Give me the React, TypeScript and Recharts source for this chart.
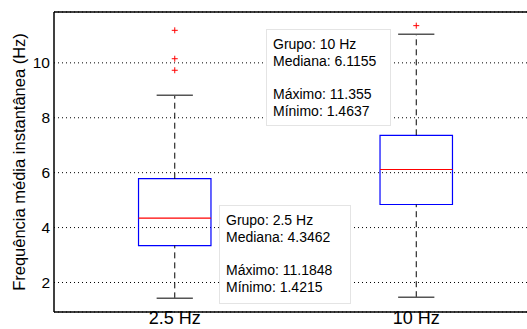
import React from 'react';
import {
  ComposedChart,
  XAxis,
  YAxis,
  CartesianGrid,
  ReferenceArea,
  ReferenceLine,
  Scatter,
} from 'recharts';

const groups = ['2.5 Hz', '10 Hz'];
const groupX = [1, 2];
const q1 = [3.345, 4.84];
const q3 = [5.78, 7.36];
const medians = [4.3462, 6.1155];
const whiskerLow = [1.4215, 1.4637];
const whiskerHigh = [8.82, 11.04];
const maxima = ['11.1848', '11.355'];
const minima = ['1.4215', '1.4637'];
const medianLabels = ['4.3462', '6.1155'];

const outliers = [
  { x: 1, y: 11.1848 },
  { x: 1, y: 10.15 },
  { x: 1, y: 9.73 },
  { x: 2, y: 11.355 },
];

const yTicks = [2, 4, 6, 8, 10];
const Y_MIN = 0.925;
const Y_MAX = 11.852;

const FONT = '"Liberation Sans", Arial, Helvetica, sans-serif';
const BOX_HALF = 0.15;
const CAP_HALF = 0.075;

// where the data tips sit on the page
const tipBoxes = [
  { left: 219, top: 205, width: 132, height: 99 },
  { left: 266, top: 29, width: 125, height: 97 },
];

const Plus = (props: any) => {
  const { cx, cy } = props;
  return (
    <g stroke="#ff0000" strokeWidth={1}>
      <line x1={cx - 3} x2={cx + 3} y1={cy} y2={cy} />
      <line x1={cx} x2={cx} y1={cy - 3} y2={cy + 3} />
    </g>
  );
};

const DataTip = ({ i }: { i: number }) => (
  <div
    style={{
      position: 'absolute',
      ...tipBoxes[i],
      boxSizing: 'border-box',
      background: '#fff',
      border: '1px solid #e4e4e4',
      fontFamily: FONT,
      fontSize: 14,
      lineHeight: '16.7px',
      padding: '6px 0 0 6px',
      color: '#000',
      whiteSpace: 'pre',
    }}
  >
    {`Grupo: ${groups[i]}\nMediana: ${medianLabels[i]}\n\nMáximo: ${maxima[i]}\nMínimo: ${minima[i]}`}
  </div>
);

export default function App() {
  return (
    <div
      style={{
        position: 'absolute',
        left: 0,
        top: 0,
        width: 527,
        height: 329,
        overflow: 'hidden',
        background: '#fff',
      }}
    >
      <ComposedChart
        width={560}
        height={329}
        margin={{ top: 12, right: 23, bottom: 0, left: 0 }}
      >
        <XAxis
          type="number"
          dataKey="x"
          domain={[0.5, 2.5]}
          ticks={groupX}
          tickFormatter={(v: number) => groups[groupX.indexOf(v)]}
          allowDataOverflow
          height={17}
          tickSize={0}
          tickMargin={0}
          stroke="#000"
          strokeWidth={1.5}
          tick={{ fill: '#000', fontSize: 18, fontFamily: FONT, dy: -1 }}
        />
        <YAxis
          type="number"
          dataKey="y"
          domain={[Y_MIN, Y_MAX]}
          ticks={yTicks}
          allowDataOverflow
          width={54}
          tickSize={0}
          tickMargin={4}
          stroke="#000"
          strokeWidth={1.5}
          tick={{ fill: '#000', fontSize: 15.5, fontFamily: FONT }}
          label={{
            value: 'Frequência média instantânea (Hz)',
            angle: -90,
            position: 'insideLeft',
            dx: 14,
            style: { fill: '#000', fontSize: 16.5, fontFamily: FONT, textAnchor: 'middle' },
          }}
        />
        <ReferenceLine y={Y_MAX} stroke="#000" strokeWidth={1.5} ifOverflow="visible" />

        {groupX.map((x, i) => (
          <React.Fragment key={groups[i]}>
            <ReferenceLine
              segment={[{ x, y: q3[i] }, { x, y: whiskerHigh[i] }]}
              stroke="#000"
              strokeDasharray="6 4"
            />
            <ReferenceLine
              segment={[{ x, y: whiskerLow[i] }, { x, y: q1[i] }]}
              stroke="#000"
              strokeDasharray="6 4"
            />
            <ReferenceLine
              segment={[{ x: x - CAP_HALF, y: whiskerHigh[i] }, { x: x + CAP_HALF, y: whiskerHigh[i] }]}
              stroke="#555"
              strokeWidth={1.5}
            />
            <ReferenceLine
              segment={[{ x: x - CAP_HALF, y: whiskerLow[i] }, { x: x + CAP_HALF, y: whiskerLow[i] }]}
              stroke="#555"
              strokeWidth={1.5}
            />
            <ReferenceArea
              x1={x - BOX_HALF}
              x2={x + BOX_HALF}
              y1={q1[i]}
              y2={q3[i]}
              fill="none"
              fillOpacity={0}
              stroke="#0000ff"
              strokeWidth={1.2}
            />
            <ReferenceLine
              segment={[{ x: x - BOX_HALF, y: medians[i] }, { x: x + BOX_HALF, y: medians[i] }]}
              stroke="#ff0000"
              strokeWidth={1.2}
            />
          </React.Fragment>
        ))}

        <CartesianGrid
          horizontal
          vertical={false}
          stroke="#000"
          strokeDasharray="1 3"
        />
        <Scatter data={outliers} shape={Plus} isAnimationActive={false} />
      </ComposedChart>
      <DataTip i={0} />
      <DataTip i={1} />
    </div>
  );
}
